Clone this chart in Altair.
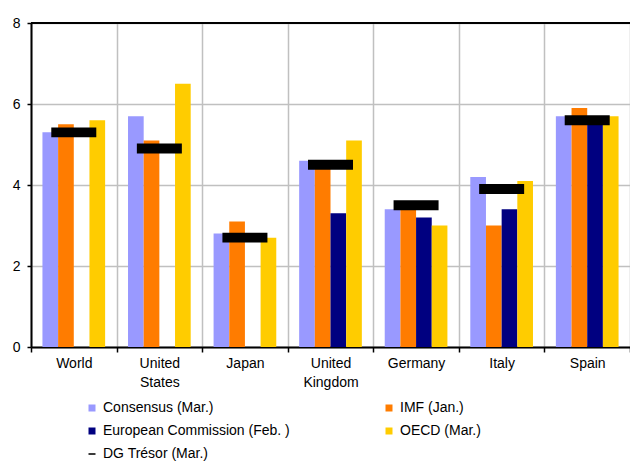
import altair as alt
import pandas as pd

# Growth forecasts by institution (%)
countries = ["World", "United States", "Japan", "United Kingdom", "Germany", "Italy", "Spain"]
series = [
    "Consensus (Mar.)",
    "IMF (Jan.)",
    "European Commission (Feb. )",
    "OECD (Mar.)",
    "DG Trésor (Mar.)",
]
consensus = [5.3, 5.7, 2.8, 4.6, 3.4, 4.2, 5.7]
imf = [5.5, 5.1, 3.1, 4.5, 3.4, 3.0, 5.9]
european_commission = [None, None, None, 3.3, 3.2, 3.4, 5.6]
oecd = [5.6, 6.5, 2.7, 5.1, 3.0, 4.1, 5.7]
dg_tresor = [5.3, 4.9, 2.7, 4.5, 3.5, 3.9, 5.6]
colors = ["#9999ff", "#ff7c00", "#000080", "#ffcc00", "#000000"]
y_ticks = [0, 2, 4, 6, 8]

FONT = "Liberation Sans"
DASH = "M-1,-0.22L1,-0.22L1,0.22L-1,0.22Z"

rows = []
for name, vals in zip(series[:4], [consensus, imf, european_commission, oecd]):
    for c, v in zip(countries, vals):
        if v is not None:
            rows.append({"country": c, "source": name, "value": v})
bars_df = pd.DataFrame(rows)
dg_df = pd.DataFrame({"country": countries, "source": series[4], "value": dg_tresor})
frame_df = pd.DataFrame({"value": [y_ticks[-1]]})

x_enc = alt.X(
    "country:N",
    sort=countries,
    scale=alt.Scale(type="band", domain=countries, paddingInner=0, paddingOuter=0),
    axis=alt.Axis(
        title=None,
        labelAngle=0,
        tickBand="extent",
        grid=True,
        gridColor="#c0c0c0",
        gridWidth=1.5,
        domainColor="black",
        domainWidth=2,
        tickColor="black",
        tickWidth=1.5,
        tickSize=5,
        labelPadding=4,
        labelFont=FONT,
        labelFontSize=14,
        labelColor="black",
        labelLineHeight=19,
        labelExpr="split(datum.label, ' ')",
    ),
)
y_enc = alt.Y(
    "value:Q",
    scale=alt.Scale(domain=[0, 8], nice=False),
    axis=alt.Axis(
        title=None,
        values=y_ticks,
        grid=True,
        gridColor="#c0c0c0",
        gridWidth=1.5,
        domainColor="black",
        domainWidth=2,
        tickColor="black",
        tickWidth=1.5,
        tickSize=4,
        labelPadding=7,
        labelFont=FONT,
        labelFontSize=14,
        labelColor="black",
    ),
)

legend = alt.Legend(
    orient="none",
    direction="horizontal",
    legendX=54,
    legendY=378,
    columns=2,
    columnPadding=92,
    rowPadding=9,
    symbolSize=49,
    symbolStrokeWidth=0,
    labelOffset=4,
    labelLimit=400,
    labelFont=FONT,
    labelFontSize=14,
    labelColor="black",
)
color_enc = alt.Color(
    "source:N",
    title=None,
    scale=alt.Scale(domain=series, range=colors),
    legend=legend,
)

bars = alt.Chart(bars_df).mark_bar().encode(
    x=x_enc,
    y=y_enc,
    xOffset=alt.XOffset(
        "source:N",
        scale=alt.Scale(domain=series[:4], paddingInner=0, paddingOuter=0.73),
    ),
    color=color_enc,
)

markers = alt.Chart(dg_df).mark_point(filled=True, size=2025, opacity=1).encode(
    x=x_enc,
    y=y_enc,
    color=color_enc,
    shape=alt.Shape(
        "source:N",
        title=None,
        scale=alt.Scale(domain=series, range=["square"] * 4 + [DASH]),
        legend=legend,
    ),
)

top_border = alt.Chart(frame_df).mark_rule(color="black", strokeWidth=2).encode(
    y=alt.Y("value:Q")
)

chart = (
    alt.layer(bars, markers, top_border)
    .properties(
        width=599,
        height=324,
        autosize=alt.AutoSizeParams(type="none"),
        padding={"left": 31, "top": 23, "right": 0, "bottom": 114},
    )
    .configure_view(stroke=None)
    .configure(background="white")
)

chart.save("out.html", embed_options={"renderer": "svg", "actions": False})
